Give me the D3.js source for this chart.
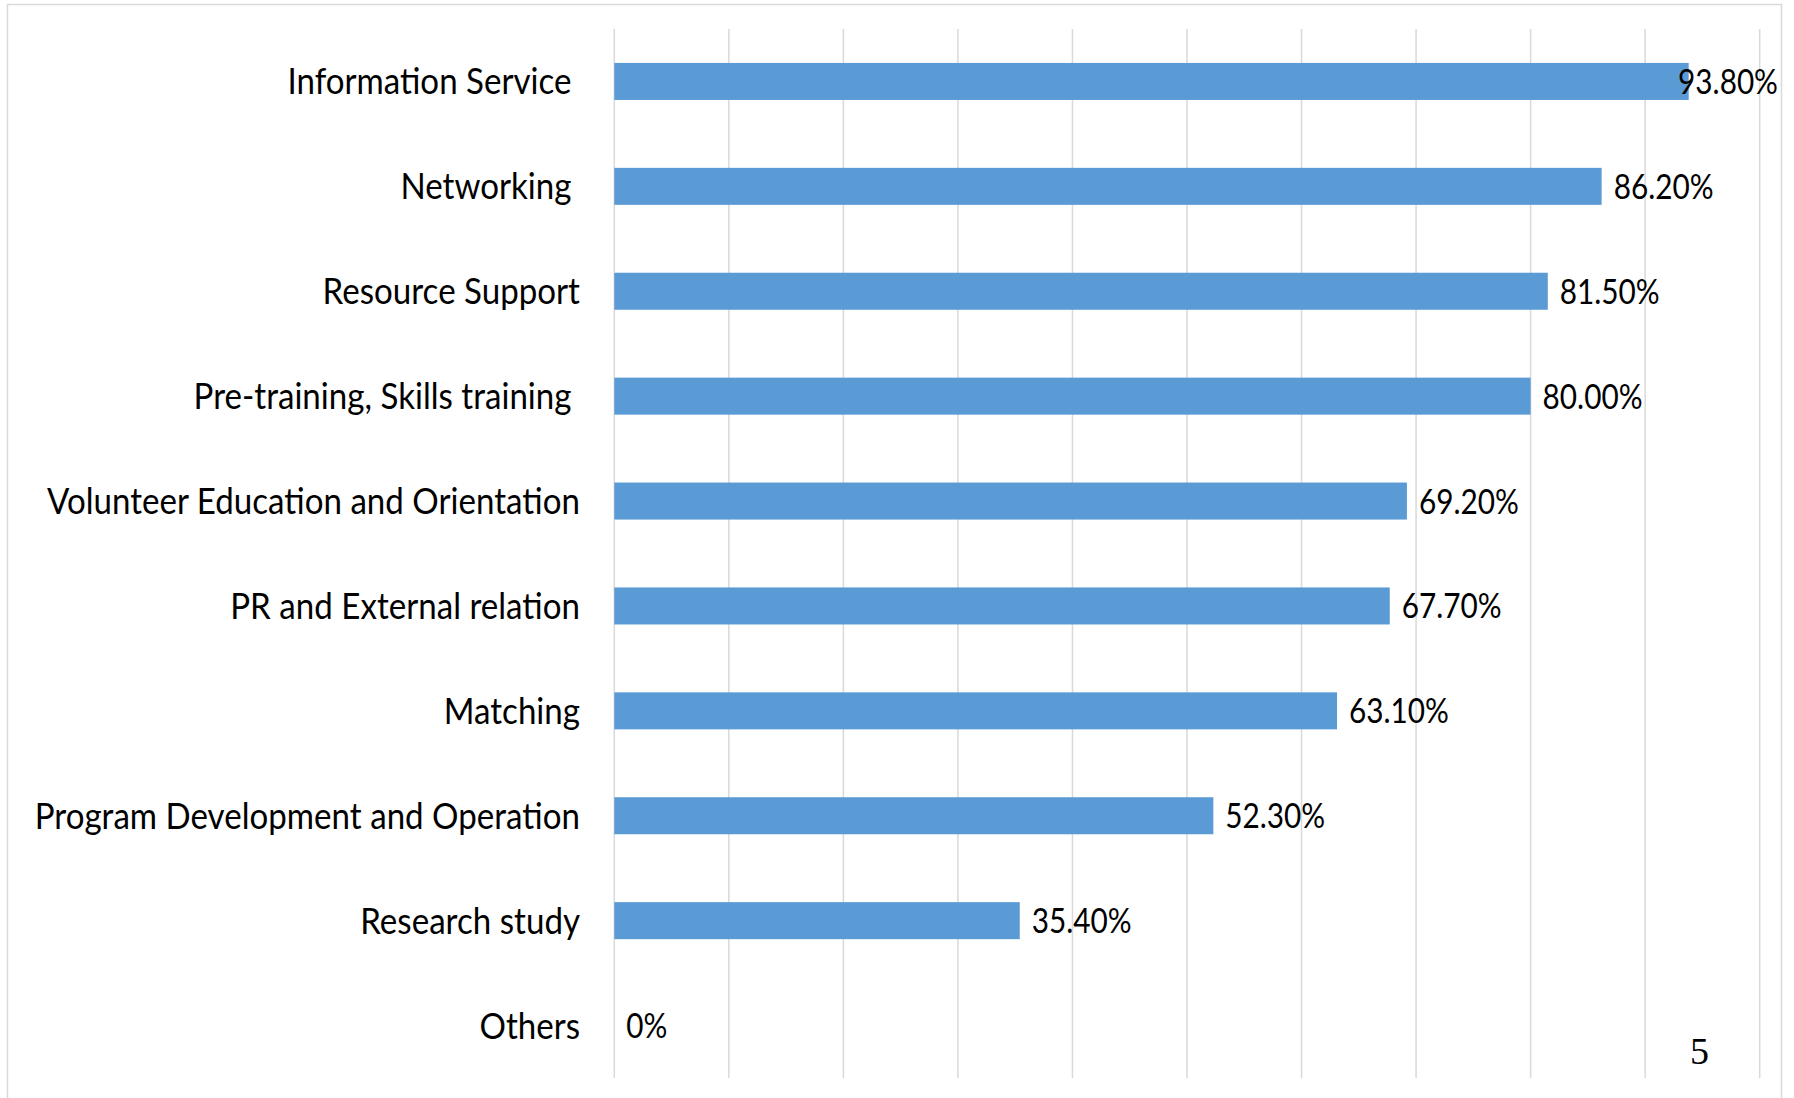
<!DOCTYPE html>
<html>
<head>
<meta charset="utf-8">
<script src="https://cdn.jsdelivr.net/npm/d3@7"></script>
<style>
    body { margin: 0; background: #fff; }
    text { white-space: pre; }
</style>
</head>
<body>
<div id="chart"></div>
<script>
// data
var categories = [
    "Information Service ",
    "Networking ",
    "Resource Support",
    "Pre-training, Skills training ",
    "Volunteer Education and Orientation",
    "PR and External relation",
    "Matching",
    "Program Development and Operation",
    "Research study",
    "Others"
];
var values = [93.8, 86.2, 81.5, 80.0, 69.2, 67.7, 63.1, 52.3, 35.4, 0];
var value_labels = ["93.80%", "86.20%", "81.50%", "80.00%", "69.20%", "67.70%", "63.10%", "52.30%", "35.40%", "0%"];
var grid_ticks = [0, 10, 20, 30, 40, 50, 60, 70, 80, 90, 100];
var page_number = "5";

var width = 1794, height = 1098;
var plot = { left: 614.3, right: 1759.7, top: 29, bottom: 1078 };
var font = "Lato, 'Open Sans', sans-serif";
// the labels look squeezed sideways, so scale the glyphs
var name_scale = 0.92;
var value_scale = 0.85;

var svg = d3.select("#chart")
    .append("svg")
    .attr("width", width)
    .attr("height", height);

// frame round the slide
svg.append("rect")
    .attr("x", 7.5)
    .attr("y", 4.5)
    .attr("width", 1774)
    .attr("height", 1110)
    .attr("fill", "white")
    .attr("stroke", "#d9d9d9")
    .attr("stroke-width", 1.5);

var x = d3.scaleLinear()
    .domain([0, 100])
    .range([plot.left, plot.right]);

var y = d3.scaleBand()
    .domain(categories)
    .range([plot.top, plot.bottom])
    .paddingInner(0.647)
    .paddingOuter(0.647 / 2);

// vertical grid
svg.append("g")
    .selectAll("line")
    .data(grid_ticks)
    .enter()
    .append("line")
    .attr("x1", function (d) { return x(d); })
    .attr("x2", function (d) { return x(d); })
    .attr("y1", plot.top)
    .attr("y2", plot.bottom)
    .attr("stroke", "#d9d9d9")
    .attr("stroke-width", 1.5);

var rows = categories.map(function (c, i) {
    return { name: c, value: values[i], label: value_labels[i] };
});

svg.append("g")
    .selectAll("rect")
    .data(rows)
    .enter()
    .append("rect")
    .attr("x", x(0))
    .attr("y", function (d) { return y(d.name); })
    .attr("width", function (d) { return x(d.value) - x(0); })
    .attr("height", y.bandwidth())
    .attr("fill", "#5b9bd5");

// category names, right aligned
svg.append("g")
    .selectAll("text")
    .data(rows)
    .enter()
    .append("text")
    .attr("transform", function (d) {
        return "translate(580," + (y(d.name) + y.bandwidth() / 2 + 13) + ") scale(" + name_scale + ",1)";
    })
    .attr("text-anchor", "end")
    .style("font-family", font)
    .style("font-size", "36px")
    .attr("fill", "#000")
    .text(function (d) { return d.name; });

// value labels, kept inside the frame
var labels = svg.append("g")
    .selectAll("text")
    .data(rows)
    .enter()
    .append("text")
    .style("font-family", font)
    .style("font-size", "35px")
    .attr("fill", "#000")
    .text(function (d) { return d.label; });

labels.each(function (d) {
    var w = this.getComputedTextLength() * value_scale;
    var lx = Math.min(x(d.value) + 12, 1778 - w);
    d3.select(this).attr("transform", "translate(" + lx + "," + (y(d.name) + y.bandwidth() / 2 + 12.5) + ") scale(" + value_scale + ",1)");
});

svg.append("text")
    .attr("x", 1690)
    .attr("y", 1064)
    .style("font-family", "'Liberation Serif', serif")
    .style("font-size", "38px")
    .attr("fill", "#000")
    .text(page_number);
</script>
</body>
</html>
